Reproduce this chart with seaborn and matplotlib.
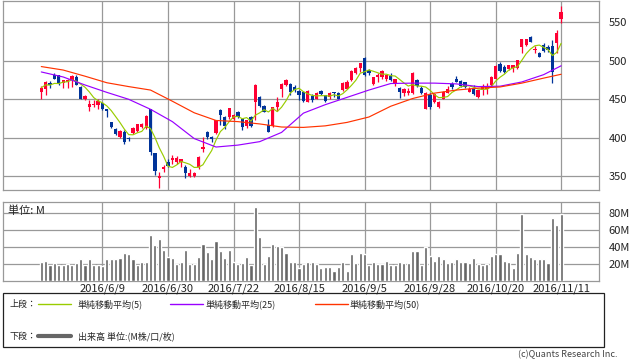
import matplotlib
matplotlib.use("Agg")
import numpy as np
import pandas as pd
import matplotlib.pyplot as plt
from matplotlib.patches import Rectangle
from matplotlib.lines import Line2D
import seaborn as sns

# daily OHLC, 120 trading days ending 2016/11/11
opens = [460, 463.5, 471.5, 482, 481, 471.5, 472.5, 475, 479, 466.5,
         450, 440.5, 442.5, 442.5, 445, 437, 420, 412, 400.5, 407,
         399.5, 406.5, 409, 414.5, 412.5, 437, 380, 348, 359, 369,
         371, 369, 369, 362.5, 351, 351, 361.5, 385, 408, 400.5,
         406, 436, 427.5, 427.5, 424, 433.5, 424, 415.5, 427.5, 446,
         453, 441, 416.5, 415, 439.5, 463, 468.5, 470, 466.5, 461,
         460, 447, 454, 451, 461, 455.5, 452.5, 459, 458, 462,
         464, 475, 484.5, 490, 504, 488, 470, 478.5, 479, 476,
         480, 471, 465, 458.5, 458.5, 458.5, 475, 465, 438, 455.5,
         447, 439.5, 451, 458.5, 470, 477, 473.5, 472, 460, 463.5,
         453.5, 462, 464, 468.5, 477, 496, 492.5, 489.5, 490, 490,
         518.5, 520.5, 531, 514, 509.5, 520, 518.5, 519.5, 523.5, 554]
highs = [467, 474, 474, 483.5, 482, 475.5, 476, 481.5, 481, 467,
         455, 449, 449, 450, 447, 438, 421, 413, 410, 410,
         401.5, 414.5, 418.5, 419, 430, 438, 380.5, 356, 365, 372,
         377.5, 376.5, 372, 364.5, 360, 356, 376, 400.5, 409, 402.5,
         422.5, 438, 428, 439, 431, 435, 424, 423, 428.5, 470,
         454, 442, 424, 439.5, 452.5, 471, 477, 471, 468, 462,
         461, 462, 457.5, 459.5, 462, 456, 459, 460, 460, 473,
         474.5, 488, 492, 497, 505, 489.5, 479, 484, 488, 482,
         484, 477, 466.5, 465, 465, 485, 476, 467, 459, 458,
         458, 448, 461, 467, 473, 480, 475, 473, 466, 468,
         462, 470, 471, 480, 494, 498.5, 494, 495, 495, 501.5,
         528, 528.5, 532, 519, 512, 523, 521, 527, 540, 571]
lows = [450, 455, 465, 476, 469, 465, 465, 466.5, 469, 450,
        449, 435, 440.5, 438, 435.5, 427.5, 413, 403.5, 399.5, 392.5,
        396, 405, 408, 413, 411, 378, 351.5, 335, 355, 362.5,
        366, 366, 362.5, 347.5, 349.5, 349, 360, 382, 398.5, 394,
        405, 416.5, 411, 425, 423, 426, 409.5, 413, 414, 423,
        440, 433.5, 407, 414, 435, 453.5, 467, 456, 460, 449,
        446, 446, 447, 450, 455, 446, 451, 453, 450, 461,
        463, 474, 483, 486, 480, 481, 469, 473, 477, 474,
        474, 467, 452, 454, 455, 457, 466, 457, 437, 438,
        445, 439, 450, 458, 464, 472, 466, 465, 459, 455,
        452, 456, 457, 467.5, 476, 486, 484, 488, 485.5, 489,
        510.5, 519, 524, 509.5, 504.5, 512, 512, 471.5, 509.5, 549.5]
closes = [465, 472.5, 468, 477, 469.5, 474.5, 475, 480, 469, 450,
          454.5, 444, 443.5, 448, 437, 434.5, 414, 405, 409, 394,
          398.5, 413, 418, 418, 428.5, 382, 357, 350, 362.5, 364,
          374, 373.5, 372, 354, 354, 354, 374.5, 388.5, 401.5, 398.5,
          422.5, 429.5, 415.5, 438.5, 429.5, 426.5, 413.5, 423, 415.5, 468.5,
          441.5, 434, 408, 439.5, 447, 470, 475, 459, 462, 455.5,
          448, 461, 449, 458.5, 457, 448, 458, 458, 451, 471.5,
          473, 487, 491, 496.5, 481.5, 484.5, 478.5, 481.5, 487, 481.5,
          475, 476, 460, 464, 461, 484.5, 467, 458.5, 458.5, 439.5,
          457, 447, 460, 464, 466.5, 473, 467.5, 466.5, 464, 457,
          461.5, 465.5, 467.5, 479.5, 493.5, 487, 485, 494.5, 494.5, 501,
          528, 528, 525, 515.5, 505.5, 513, 514, 486, 536.5, 564]

# volume in millions
volume = [21.5, 23, 19, 21, 19, 18, 20, 19, 21, 26,
          18, 25, 18, 18, 17, 25, 25, 25, 27, 33,
          31, 25, 19, 22, 22, 54, 42, 49, 36, 28,
          27, 20, 21.5, 36, 20, 20, 28, 43, 34, 25,
          47, 35, 27, 36, 22, 20, 21, 28, 19, 87,
          52, 20, 29, 43, 41, 40, 33, 22, 22, 15,
          20, 22, 22, 20, 15, 16.5, 16.5, 12, 16.5, 22,
          12, 31, 21, 33, 31, 18, 22, 20, 20, 23.5,
          18, 18, 22, 21, 21, 35, 35, 19, 40, 29,
          23.5, 29, 26, 21, 22, 25, 22, 22, 21, 27,
          20, 19, 20, 29, 32, 32, 23.5, 22, 15, 33,
          79, 31, 28, 26, 26, 25, 21, 74, 66, 79]

# 25 / 50 day averages (they depend on earlier data)
ma_days = [0, 5, 10, 15, 20, 25, 30, 35, 40, 45, 50, 55, 60,
           65, 70, 75, 80, 85, 90, 95, 100, 105, 110, 115, 119]
ma25 = [485.5, 479, 468.6, 459, 450, 437, 421, 399, 388, 390.5, 395, 407, 432,
        443, 452.5, 462, 470.5, 471, 471, 470, 466.5, 467, 472.5, 482, 493.5]
ma50 = [492.5, 488, 480, 471.5, 466.5, 462, 447.5, 432.5, 422.5, 421, 418, 414, 413.5,
        415.5, 420, 427, 441, 451, 458, 462, 464.5, 466, 471, 477.5, 482.5]

tick_days = [14, 29, 44, 59, 74, 89, 104, 119]
tick_labels = ["2016/6/9", "2016/6/30", "2016/7/22", "2016/8/15",
               "2016/9/5", "2016/9/28", "2016/10/20", "2016/11/11"]

price_ticks = [350, 400, 450, 500, 550]
vol_ticks = [20, 40, 60, 80]
vol_labels = ["20M", "40M", "60M", "80M"]

UP = "#ff0033"
DOWN = "#003399"
GRID = "#999999"

sns.set_theme(style="white")
plt.rcParams['font.family'] = ['Noto Sans CJK JP', 'DejaVu Sans']

df = pd.DataFrame({"day": np.arange(len(closes)), "open": opens, "high": highs,
                   "low": lows, "close": closes, "volume": volume})
df["ma5"] = df["close"].rolling(5, min_periods=1).mean()
df["up"] = df["close"] >= df["open"]
df["color"] = np.where(df["up"], UP, DOWN)

W, H = 638, 362
fig = plt.figure(figsize=(W / 100, H / 100), dpi=100)


def box(x0, y0, x1, y1):
    return [x0 / W, 1 - y1 / H, (x1 - x0) / W, (y1 - y0) / H]


ax = fig.add_axes(box(3.3, 0.5, 598.7, 190))
axv = fig.add_axes(box(3.3, 201.7, 598.7, 280.7))

# candles
body_lo = df[["open", "close"]].min(axis=1)
body_h = (df["close"] - df["open"]).abs().clip(lower=0.8)
ax.vlines(df["day"], df["low"], df["high"], colors=df["color"], linewidth=0.9, zorder=3)
ax.bar(df["day"], body_h, bottom=body_lo, width=0.75, color=df["color"], linewidth=0, zorder=3)

# moving averages
sns.lineplot(x=df["day"], y=df["ma5"], ax=ax, color="#99cc00", linewidth=0.85, zorder=4)
sns.lineplot(x=ma_days, y=ma25, ax=ax, color="#9900ff", linewidth=0.85, zorder=4)
sns.lineplot(x=ma_days, y=ma50, ax=ax, color="#ff3300", linewidth=0.85, zorder=4)

# volume
sns.barplot(data=df, x="day", y="volume", native_scale=True, color="#666666",
            saturation=1, width=0.72, errorbar=None, ax=axv, zorder=3)

for a in (ax, axv):
    a.set_xlim(-8.7, 127.6)
    a.set_xticks(tick_days)
    a.grid(True, color=GRID, linewidth=0.9, zorder=0)
    a.yaxis.tick_right()
    a.tick_params(length=0, labelsize=8, colors="#222222", pad=7)
    a.set_xlabel("")
    a.set_ylabel("")
    for s in a.spines.values():
        s.set_color(GRID)
        s.set_linewidth(0.9)

ax.set_ylim(332.2, 578.3)
ax.set_yticks(price_ticks)
ax.set_xticklabels([])

axv.set_ylim(0, 93)
axv.set_yticks(vol_ticks)
axv.set_yticklabels(vol_labels)
axv.set_xticklabels(tick_labels)
axv.tick_params(axis="x", pad=2)
axv.text(0.008, 0.95, "単位: M", transform=axv.transAxes, fontsize=8,
         ha="left", va="top", color="#222222")

# legend box at the bottom
fig.patches.append(Rectangle((3 / W, 1 - 347 / H), 601 / W, 54 / H,
                             transform=fig.transFigure, fill=False,
                             edgecolor="#222222", linewidth=0.9))
row1, row2 = 1 - 304 / H, 1 - 336 / H
fs = 6.5
fig.text(10 / W, row1, "上段：", fontsize=fs, va="center")
items = [(38, 78, "#99cc00", "単純移動平均(5)"),
         (170, 205, "#9900ff", "単純移動平均(25)"),
         (315, 350, "#ff3300", "単純移動平均(50)")]
for x0, tx, col, lab in items:
    fig.lines.append(Line2D([x0 / W, (x0 + 33) / W], [row1, row1], color=col,
                            linewidth=1, transform=fig.transFigure))
    fig.text(tx / W, row1, lab, fontsize=fs, va="center")
fig.text(10 / W, row2, "下段：", fontsize=fs, va="center")
fig.lines.append(Line2D([38 / W, 71 / W], [row2, row2], color="#666666",
                        linewidth=3, transform=fig.transFigure))
fig.text(78 / W, row2, "出来高 単位:(M株/口/枚)", fontsize=fs, va="center")

fig.text(617 / W, 1 - 355 / H, "(c)Quants Research Inc.", fontsize=6.5,
         ha="right", va="center", color="#444444")

fig.savefig("out.png", dpi=100)
